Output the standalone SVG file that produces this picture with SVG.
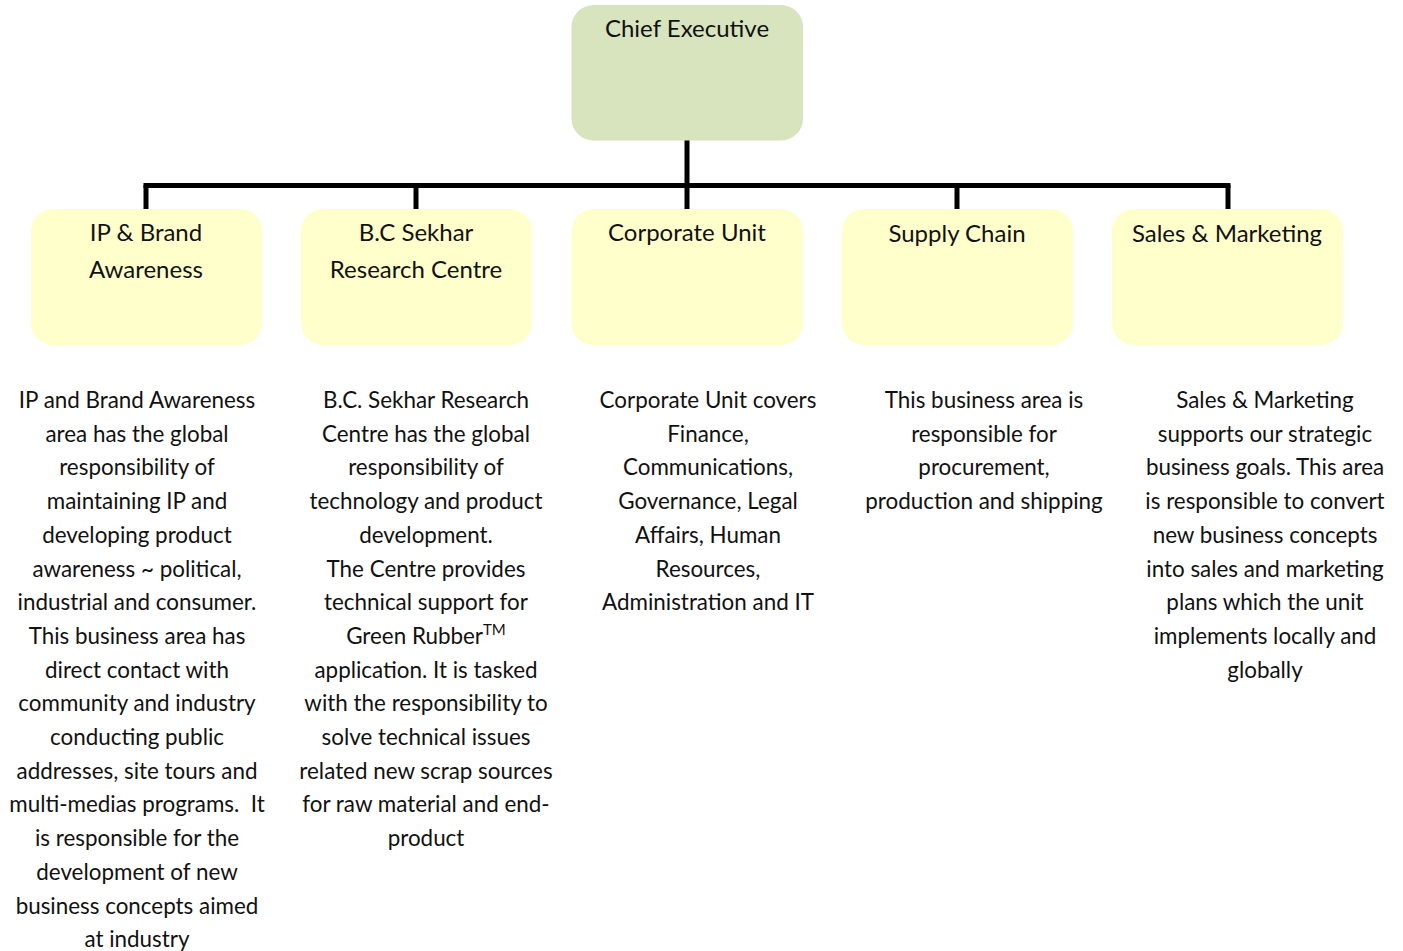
<svg xmlns="http://www.w3.org/2000/svg" width="1403" height="951" viewBox="0 0 1403 951">
<style>
text{font-family:Lato,"Open Sans","Liberation Sans",sans-serif;font-size:22.4px;fill:#111;text-anchor:middle}
.top{fill:#d7e4bd}
.unit{fill:#ffffcc}
.title{font-size:24px}
.conn{stroke:#000;stroke-width:5;fill:none}
</style>
<rect width="1403" height="951" fill="#fff"/>
<g id="connectors">
<line class="conn" x1="687" y1="140" x2="687" y2="209"/>
<line class="conn" x1="146" y1="185.5" x2="1228" y2="185.5" stroke-linecap="square"/>
<line class="conn" x1="146" y1="185" x2="146" y2="209"/>
<line class="conn" x1="416" y1="185" x2="416" y2="209"/>
<line class="conn" x1="957" y1="185" x2="957" y2="209"/>
<line class="conn" x1="1228" y1="185" x2="1228" y2="209"/>
</g>
<g id="chief-executive">
<rect class="top" x="571.5" y="5" width="231.5" height="135.5" rx="22"/>
<text class="title" x="687" y="37">Chief Executive</text>
</g>
<g id="ip-brand">
<rect class="unit" x="31" y="209" width="231" height="136" rx="22"/>
<text class="title" x="146" y="241">IP &amp; Brand</text>
<text class="title" x="146" y="278">Awareness</text>
<text x="137" y="408">IP and Brand Awareness<tspan x="137" dy="33.7">area has the global</tspan><tspan x="137" dy="33.7">responsibility of</tspan><tspan x="137" dy="33.7">maintaining IP and</tspan><tspan x="137" dy="33.7">developing product</tspan><tspan x="137" dy="33.7">awareness ~ political,</tspan><tspan x="137" dy="33.7">industrial and consumer.</tspan><tspan x="137" dy="33.7">This business area has</tspan><tspan x="137" dy="33.7">direct contact with</tspan><tspan x="137" dy="33.7">community and industry</tspan><tspan x="137" dy="33.7">conducting public</tspan><tspan x="137" dy="33.7">addresses, site tours and</tspan><tspan x="137" dy="33.7">multi-medias programs.&#160; It</tspan><tspan x="137" dy="33.7">is responsible for the</tspan><tspan x="137" dy="33.7">development of new</tspan><tspan x="137" dy="33.7">business concepts aimed</tspan><tspan x="137" dy="33.7">at industry</tspan></text>
</g>
<g id="research-centre">
<rect class="unit" x="301" y="209" width="231" height="136" rx="22"/>
<text class="title" x="416" y="241">B.C Sekhar</text>
<text class="title" x="416" y="278">Research Centre</text>
<text x="426" y="408">B.C. Sekhar Research<tspan x="426" dy="33.7">Centre has the global</tspan><tspan x="426" dy="33.7">responsibility of</tspan><tspan x="426" dy="33.7">technology and product</tspan><tspan x="426" dy="33.7">development.</tspan><tspan x="426" dy="33.7">The Centre provides</tspan><tspan x="426" dy="33.7">technical support for</tspan><tspan x="426" dy="33.7">Green Rubber<tspan dy="-9" font-size="15">TM</tspan></tspan><tspan x="426" dy="42.7">application. It is tasked</tspan><tspan x="426" dy="33.7">with the responsibility to</tspan><tspan x="426" dy="33.7">solve technical issues</tspan><tspan x="426" dy="33.7">related new scrap sources</tspan><tspan x="426" dy="33.7">for raw material and end-</tspan><tspan x="426" dy="33.7">product</tspan></text>
</g>
<g id="corporate-unit">
<rect class="unit" x="571.5" y="209" width="231.5" height="136" rx="22"/>
<text class="title" x="687" y="241">Corporate Unit</text>
<text x="708" y="408">Corporate Unit covers<tspan x="708" dy="33.7">Finance,</tspan><tspan x="708" dy="33.7">Communications,</tspan><tspan x="708" dy="33.7">Governance, Legal</tspan><tspan x="708" dy="33.7">Affairs, Human</tspan><tspan x="708" dy="33.7">Resources,</tspan><tspan x="708" dy="33.7">Administration and IT</tspan></text>
</g>
<g id="supply-chain">
<rect class="unit" x="842" y="209" width="231" height="136" rx="22"/>
<text class="title" x="957" y="242">Supply Chain</text>
<text x="984" y="408">This business area is<tspan x="984" dy="33.7">responsible for</tspan><tspan x="984" dy="33.7">procurement,</tspan><tspan x="984" dy="33.7">production and shipping</tspan></text>
</g>
<g id="sales-marketing">
<rect class="unit" x="1112" y="209" width="231" height="136" rx="22"/>
<text class="title" x="1227" y="242">Sales &amp; Marketing</text>
<text x="1265" y="408">Sales &amp; Marketing<tspan x="1265" dy="33.7">supports our strategic</tspan><tspan x="1265" dy="33.7">business goals. This area</tspan><tspan x="1265" dy="33.7">is responsible to convert</tspan><tspan x="1265" dy="33.7">new business concepts</tspan><tspan x="1265" dy="33.7">into sales and marketing</tspan><tspan x="1265" dy="33.7">plans which the unit</tspan><tspan x="1265" dy="33.7">implements locally and</tspan><tspan x="1265" dy="33.7">globally</tspan></text>
</g>
</svg>
